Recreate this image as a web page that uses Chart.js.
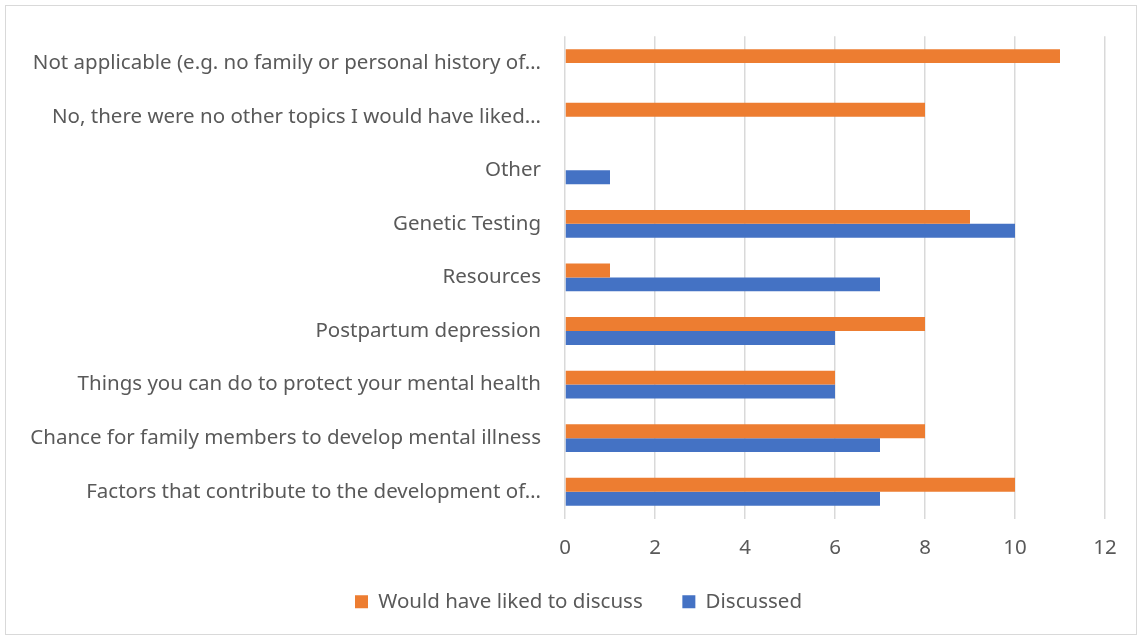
<!DOCTYPE html>
<html>
<head>
<meta charset="utf-8">
<script src="https://cdn.jsdelivr.net/npm/chart.js@4.4.0/dist/chart.umd.min.js"></script>
<style>
  html, body { margin: 0; padding: 0; background: #fff; }
  #frame { position: absolute; left: 5px; top: 5px; width: 1132px; height: 630px; border: 1px solid #d9d9d9; box-sizing: border-box; }
  #wrap { position: absolute; left: 0; top: 0; width: 1141px; height: 639px; }
</style>
</head>
<body>
<div id="frame"></div>
<div id="wrap"><canvas id="myChart" width="1141" height="639"></canvas></div>
<script>
var categories = [
  "Not applicable (e.g. no family or personal history of\u2026",
  "No, there were no other topics I would have liked\u2026",
  "Other",
  "Genetic Testing",
  "Resources",
  "Postpartum depression",
  "Things you can do to protect your mental health",
  "Chance for family members to develop mental illness",
  "Factors that contribute to the development of\u2026"
]
var wouldLike = [11, 8, 0, 9, 1, 8, 6, 8, 10]
var discussed = [0, 0, 1, 10, 7, 6, 6, 7, 7]
var xTicks = [0, 2, 4, 6, 8, 10, 12]

var fontFamily = "'Noto Sans', sans-serif"
var textColor = "#595959"
var fontSize = 20.5

// legend in the original sits a little right of the plot's centre
var nudgeLegend = {
  id: 'nudgeLegend',
  afterLayout: function(chart) {
    if (chart.legend) {
      chart.legend.left += 26
      chart.legend.right += 26
    }
  }
}

document.addEventListener("DOMContentLoaded", function(event) {

var ctx = document.getElementById("myChart")
var myChart = new Chart(ctx, {
  type: 'bar',
  data: {
    labels: categories,
    datasets: [
      {
        label: "Would have liked to discuss",
        data: wouldLike,
        backgroundColor: "#ED7D31",
        borderWidth: 0,
        categoryPercentage: 0.52,
        barPercentage: 1
      },
      {
        label: "Discussed",
        data: discussed,
        backgroundColor: "#4472C4",
        borderWidth: 0,
        categoryPercentage: 0.52,
        barPercentage: 1
      }
    ]
  },
  plugins: [nudgeLegend],
  options: {
    indexAxis: 'y',
    responsive: false,
    animation: false,
    layout: { padding: { top: 34, right: 36, left: 0, bottom: 17 } },
    scales: {
      x: {
        min: 0,
        max: 12,
        afterBuildTicks: function(scale) {
          scale.ticks = xTicks.map(function(v) { return { value: v } })
        },
        afterFit: function(scale) { scale.height = 44 },
        grid: { color: "#d9d9d9", lineWidth: 1.5, drawTicks: false },
        border: { display: false },
        ticks: { color: textColor, font: { family: fontFamily, size: fontSize }, padding: 17 }
      },
      y: {
        afterFit: function(scale) { scale.width = 565 },
        grid: { display: false, drawTicks: false },
        border: { display: false },
        ticks: { color: textColor, font: { family: fontFamily, size: fontSize }, padding: 24, autoSkip: false }
      }
    },
    plugins: {
      tooltip: { enabled: false },
      legend: {
        position: 'bottom',
        labels: {
          color: textColor,
          font: { family: fontFamily, size: fontSize },
          boxWidth: 13,
          boxHeight: 13,
          padding: 29,
          generateLabels: function(chart) {
            var items = Chart.defaults.plugins.legend.labels.generateLabels(chart)
            // a bit more room between the two legend entries
            items[0].text = items[0].text + "  "
            return items
          }
        }
      }
    }
  }
})

})
</script>
</body>
</html>
